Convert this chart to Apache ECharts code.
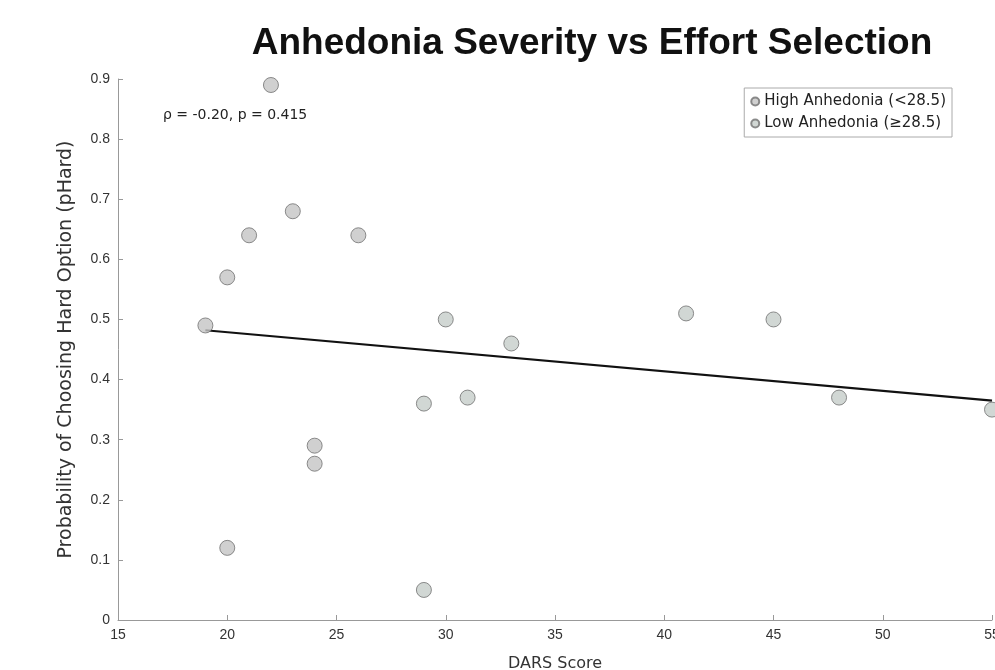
<!DOCTYPE html>
<html>
<head>
<meta charset="utf-8">
<script src="https://cdn.jsdelivr.net/npm/echarts@6/dist/echarts.min.js"></script>
<style>html,body{margin:0;padding:0;background:#fff;overflow:hidden;}#c{width:995px;height:670px;}</style>
</head>
<body>
<div id="c"></div>
<script>
// DARS score and pHard, high anhedonia group (<28.5)
var highX = [19, 20, 20, 21, 22, 23, 24, 24, 26];
var highY = [0.49, 0.57, 0.12, 0.64, 0.89, 0.68, 0.29, 0.26, 0.64];
// low anhedonia group (>=28.5)
var lowX = [29, 29, 30, 31, 33, 41, 45, 48, 55];
var lowY = [0.36, 0.05, 0.50, 0.37, 0.46, 0.51, 0.50, 0.37, 0.35];
// fitted trend line endpoints
var trendX = [19, 55];
var trendY = [0.482, 0.365];
var xTicks = {min: 15, max: 55, step: 5};
var yTicks = {min: 0, max: 0.9, step: 0.1};

function pairs(xs, ys){ return xs.map(function(x,i){ return [x, ys[i]]; }); }

var chart = echarts.init(document.getElementById('c'));
var font = '"Liberation Sans", Arial, sans-serif';
var wide = '"DejaVu Sans", sans-serif';
chart.setOption({
  animation: false,
  backgroundColor: '#fff',
  title: {
    text: 'Anhedonia Severity vs Effort Selection',
    left: 587, top: 20, textAlign: 'center',
    textStyle: {fontFamily: font, fontSize: 37, fontWeight: 'bold', color: '#111'}
  },
  legend: {
    right: 43, top: 88, orient: 'vertical',
    icon: 'circle', itemWidth: 8, itemHeight: 8, itemGap: 7,
    padding: [6, 6, 6, 6],
    borderColor: '#aaa', borderWidth: 1,
    textStyle: {fontFamily: wide, fontSize: 15, color: '#222'},
    data: ['High Anhedonia (<28.5)', 'Low Anhedonia (\u226528.5)']
  },
  grid: {left: 118, right: 3, top: 79, bottom: 50, containLabel: false, outerBoundsMode: 'none'},
  xAxis: {
    type: 'value', min: xTicks.min, max: xTicks.max, interval: xTicks.step,
    name: 'DARS Score', nameLocation: 'middle', nameGap: 36,
    nameTextStyle: {fontFamily: wide, fontSize: 16, color: '#333'},
    axisLine: {show: true, lineStyle: {color: '#999', width: 1}},
    axisTick: {show: true, inside: true, length: 5, lineStyle: {color: '#999'}},
    axisLabel: {fontFamily: font, fontSize: 14, color: '#333', margin: 8},
    splitLine: {show: false}
  },
  yAxis: {
    type: 'value', min: yTicks.min, max: yTicks.max, interval: yTicks.step,
    name: 'Probability of Choosing Hard Option (pHard)', nameLocation: 'middle', nameGap: 42,
    nameTextStyle: {fontFamily: wide, fontSize: 19, color: '#333'},
    axisLine: {show: true, lineStyle: {color: '#999', width: 1}},
    axisTick: {show: true, inside: true, length: 5, lineStyle: {color: '#999'}},
    axisLabel: {fontFamily: font, fontSize: 14, color: '#333', margin: 8},
    splitLine: {show: false}
  },
  graphic: [{
    type: 'text', left: 163, top: 108,
    style: {text: '\u03c1 = -0.20, p = 0.415', fontFamily: wide, fontSize: 14, fill: '#222'}
  }],
  series: [
    {
      name: 'Trend', type: 'line', data: pairs(trendX, trendY),
      symbol: 'none', lineStyle: {color: '#111', width: 2.2}, z: 3, silent: true
    },
    {
      name: 'High Anhedonia (<28.5)', type: 'scatter', data: pairs(highX, highY),
      symbolSize: 15,
      itemStyle: {color: '#c4c4c4', borderColor: '#707070', borderWidth: 1}, z: 4
    },
    {
      name: 'Low Anhedonia (\u226528.5)', type: 'scatter', data: pairs(lowX, lowY),
      symbolSize: 15,
      itemStyle: {color: '#c6cdc9', borderColor: '#707070', borderWidth: 1}, z: 4
    }
  ]
});
</script>
</body>
</html>
